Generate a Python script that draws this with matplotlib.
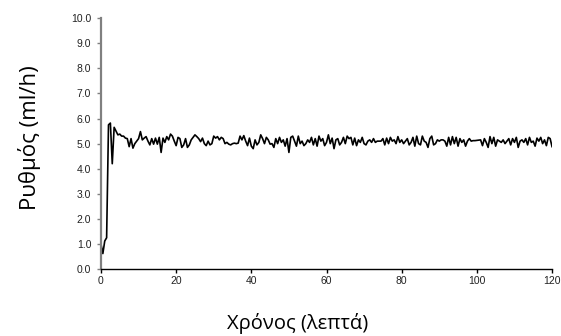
import numpy as np
import matplotlib
matplotlib.use("Agg")
import matplotlib.pyplot as plt

# rate readings every 0.5 min, 0..120 min
rate = [
    1.00, 0.62, 1.12, 1.25, 5.75, 5.82, 4.20, 5.65, 5.50, 5.35,
    5.38, 5.30, 5.30, 5.22, 5.20, 4.88, 5.20, 4.82, 5.00, 5.10,
    5.20, 5.48, 5.15, 5.22, 5.28, 5.10, 4.95, 5.20, 4.98, 5.22,
    4.98, 5.25, 4.65, 5.22, 5.05, 5.28, 5.15, 5.38, 5.30, 5.10,
    4.92, 5.25, 5.20, 4.85, 4.95, 5.20, 4.85, 4.95, 5.15, 5.25,
    5.35, 5.28, 5.20, 5.08, 5.22, 5.00, 4.92, 5.10, 4.95, 5.00,
    5.30, 5.22, 5.28, 5.15, 5.25, 5.20, 5.00, 5.05, 4.98, 4.95,
    5.00, 5.02, 5.00, 5.02, 5.30, 5.15, 5.32, 5.10, 4.92, 5.22,
    4.90, 4.80, 5.15, 4.95, 5.05, 5.35, 5.20, 5.00, 5.25, 5.15,
    4.98, 5.00, 4.85, 5.20, 5.00, 5.25, 5.05, 5.15, 4.90, 5.20,
    4.65, 5.25, 5.30, 5.10, 4.90, 5.30, 5.00, 5.10, 4.92, 5.00,
    5.15, 5.05, 5.25, 4.95, 5.20, 4.90, 5.30, 5.10, 5.20, 4.92,
    5.05, 5.35, 5.00, 5.22, 4.80, 5.15, 5.20, 4.95, 5.05, 5.25,
    5.00, 5.30, 5.20, 5.25, 4.95, 5.22, 4.92, 5.15, 5.05, 5.25,
    5.00, 4.95, 5.10, 5.15, 5.05, 5.20, 5.05, 5.10, 5.10, 5.10,
    5.20, 4.95, 5.22, 5.00, 5.25, 5.10, 5.15, 5.00, 5.28, 5.05,
    5.15, 5.00, 5.10, 5.20, 4.95, 5.05, 5.25, 4.90, 5.30, 5.00,
    4.95, 5.30, 5.10, 5.05, 4.85, 5.20, 5.30, 4.95, 5.00, 5.15,
    5.10, 5.15, 5.15, 5.10, 4.90, 5.25, 4.95, 5.28, 5.00, 5.25,
    4.90, 5.20, 5.05, 5.15, 4.90, 5.10, 5.20, 5.10, 5.12, 5.12,
    5.13, 5.14, 5.15, 4.92, 5.20, 5.05, 4.85, 5.28, 5.00, 5.25,
    4.90, 5.15, 5.10, 5.05, 5.15, 5.00, 5.10, 5.20, 4.95, 5.20,
    5.05, 5.25, 4.85, 5.10, 5.15, 5.05, 5.20, 4.95, 5.25, 5.05,
    5.10, 4.90, 5.22, 5.10, 5.25, 5.00, 5.15, 4.92, 5.25, 5.20,
    4.88,
]
minutes = np.arange(len(rate)) * 0.5

x_ticks = [0, 20, 40, 60, 80, 100, 120]
y_ticks = [0, 1, 2, 3, 4, 5, 6, 7, 8, 9, 10]

plt.rcParams["font.family"] = ["Liberation Sans", "DejaVu Sans"]

fig = plt.figure(figsize=(5.61, 3.36), dpi=100)
ax = fig.add_axes([0.18, 0.199, 0.804, 0.747])
ax.plot(minutes, rate, color="black", linewidth=1.2)

ax.set_xlim(0, 120)
ax.set_ylim(0, 10)
ax.set_xticks(x_ticks)
ax.set_yticks(y_ticks)
ax.set_yticklabels([f"{v:.1f}" for v in y_ticks])
ax.tick_params(axis="both", labelsize=7.5, length=3, width=1, direction="out",
               labelcolor="#222222")
ax.tick_params(axis="y", colors="#808080", labelcolor="#222222", pad=4)
ax.tick_params(axis="x", pad=2)

for side in ["top", "right"]:
    ax.spines[side].set_visible(False)
ax.spines["left"].set_color("#808080")
ax.spines["left"].set_linewidth(1.6)
ax.spines["bottom"].set_color("black")
ax.spines["bottom"].set_linewidth(1)

fig.text(0.531, 0.038, "Χρόνος (λεπτά)", ha="center", va="center",
         fontsize=14.5, family=["Open Sans", "DejaVu Sans"])
fig.text(0.053, 0.59, "Ρυθμός (ml/h)", ha="center", va="center", rotation=90,
         fontsize=16, family=["Open Sans", "DejaVu Sans"])

fig.savefig("out.png", dpi=100)
